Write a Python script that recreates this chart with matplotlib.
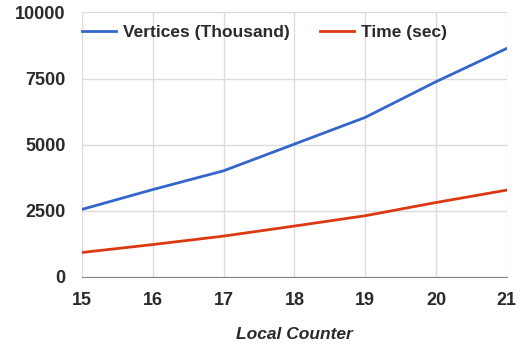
import matplotlib
matplotlib.use("Agg")
import matplotlib.pyplot as plt

# データ
local_counter = [15, 16, 17, 18, 19, 20, 21]
vertices = [2550, 3300, 4010, 5020, 6030, 7380, 8640]
time_sec = [920, 1220, 1540, 1920, 2310, 2810, 3280]
y_ticks = [0, 2500, 5000, 7500, 10000]

plt.rcParams['font.family'] = ['Liberation Sans', 'DejaVu Sans']

fig = plt.figure(figsize=(5.29, 3.46), dpi=100)
ax = fig.add_axes([0.155, 0.2, 0.803, 0.764])

ax.plot(local_counter, vertices, color='#3366cc', linewidth=2, label='Vertices (Thousand)')
ax.plot(local_counter, time_sec, color='#dc3912', linewidth=2, label='Time (sec)')

ax.set_xlim(15, 21)
ax.set_ylim(0, 10000)
ax.set_xticks(local_counter)
ax.set_yticks(y_ticks)
ax.grid(True, color='#dcdcdc', linewidth=1)
ax.set_axisbelow(True)

for side in ['top', 'right', 'left']:
    ax.spines[side].set_visible(False)
ax.spines['bottom'].set_color('#888888')
ax.tick_params(axis='x', length=0, labelsize=13, colors='#2a2a2a', pad=11)
ax.tick_params(axis='y', length=0, labelsize=13, colors='#2a2a2a', pad=12)
for lbl in ax.get_xticklabels() + ax.get_yticklabels():
    lbl.set_fontweight('bold')

ax.set_xlabel('Local Counter', fontsize=12.5, fontweight='bold', style='italic',
              color='#2a2a2a', labelpad=13)

leg = ax.legend(loc='upper left', ncol=2, frameon=False, bbox_to_anchor=(0.0, 0.953),
                borderpad=0, borderaxespad=0,
                prop={'weight': 'bold', 'size': 12.5}, handlelength=1.95,
                columnspacing=1.75, handletextpad=0.4)
for t in leg.get_texts():
    t.set_color('#2a2a2a')

fig.savefig('out.png', dpi=100)
